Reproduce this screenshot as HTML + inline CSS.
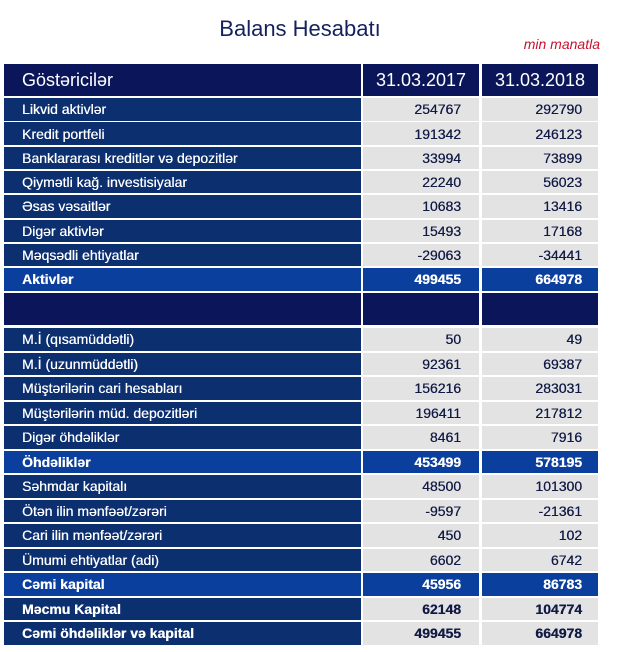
<!DOCTYPE html>
<html><head><meta charset="utf-8"><style>
body{margin:0;width:620px;height:652px;background:#fff;position:relative;overflow:hidden;font-family:"Liberation Sans Narrow","Liberation Sans",sans-serif;}
.t{position:absolute;left:0;width:600px;text-align:center;top:16px;font-size:22px;color:#15215e;}
.m{position:absolute;right:20px;top:36px;font-size:14px;font-style:italic;color:#c8102e;}
.c{position:absolute;box-sizing:border-box;font-size:14px;display:flex;align-items:center;text-shadow:0.3px 0 0 currentColor;}
.l{left:4px;width:357px;padding-left:18px;color:#fff;background:#0c2f70;}
.v1{left:363px;width:116px;justify-content:flex-end;padding-right:18px;background:#e3e3e3;color:#111a44;}
.v2{left:482px;width:116px;justify-content:flex-end;padding-right:16px;background:#e3e3e3;color:#111a44;}
.h{background:#0a1659 !important;color:#fff !important;font-size:18px;text-shadow:none;}
.s{background:#0b3f9e !important;color:#fff !important;font-weight:bold;}
.b{font-weight:bold;}
</style></head><body>
<div class="t">Balans Hesabatı</div>
<div class="m">min manatla</div>
<div class="c l h" style="top:64px;height:32px">Göstəricilər</div>
<div class="c v1 h" style="top:64px;height:32px;justify-content:center;padding:0">31.03.2017</div>
<div class="c v2 h" style="top:64px;height:32px;justify-content:center;padding:0">31.03.2018</div>
<div id="r"></div>
<script>
var rows=[
["Likvid aktivlər","254767","292790",98,""],
["Kredit portfeli","191342","246123",122.3,""],
["Banklararası kreditlər və depozitlər","33994","73899",146.6,""],
["Qiymətli kağ. investisiyalar","22240","56023",170.9,""],
["Əsas vəsaitlər","10683","13416",195.2,""],
["Digər aktivlər","15493","17168",219.5,""],
["Məqsədli ehtiyatlar","-29063","-34441",243.8,""],
["Aktivlər","499455","664978",268,"s"],
["M.İ (qısamüddətli)","50","49",328,""],
["M.İ (uzunmüddətli)","92361","69387",352.5,""],
["Müştərilərin cari hesabları","156216","283031",377,""],
["Müştərilərin müd. depozitləri","196411","217812",401.5,""],
["Digər öhdəliklər","8461","7916",426,""],
["Öhdəliklər","453499","578195",450.5,"s"],
["Səhmdar kapitalı","48500","101300",475,""],
["Ötən ilin mənfəət/zərəri","-9597","-21361",499.5,""],
["Cari ilin mənfəət/zərəri","450","102",524,""],
["Ümumi ehtiyatlar (adi)","6602","6742",548.5,""],
["Cəmi kapital","45956","86783",573,"s"],
["Məcmu Kapital","62148","104774",597.5,"b"],
["Cəmi öhdəliklər və kapital","499455","664978",622,"b"]];
var h="";
rows.forEach(function(r){var st='style="top:'+r[3]+'px;height:22.5px"';
h+='<div class="c l '+r[4]+'" '+st+'>'+r[0]+'</div><div class="c v1 '+r[4]+'" '+st+'>'+r[1]+'</div><div class="c v2 '+r[4]+'" '+st+'>'+r[2]+'</div>';});
h+='<div class="c l h" style="top:293px;height:32px"></div><div class="c v1 h" style="top:293px;height:32px"></div><div class="c v2 h" style="top:293px;height:32px"></div>';
document.getElementById("r").innerHTML=h;
</script>
</body></html>
